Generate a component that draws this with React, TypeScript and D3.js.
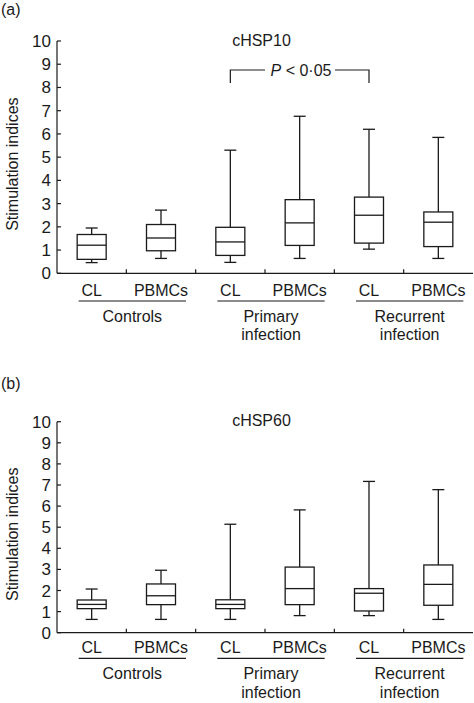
import React from "react";
import * as d3 from "d3";

const groups = ["CL", "PBMCs", "CL", "PBMCs", "CL", "PBMCs"];
const groupLabels = [["Controls"], ["Primary", "infection"], ["Recurrent", "infection"]];
const yTicks = [0, 1, 2, 3, 4, 5, 6, 7, 8, 9, 10];

// [min, q1, median, q3, max]
const hsp10 = [
  [0.46, 0.6, 1.21, 1.67, 1.95],
  [0.64, 0.97, 1.52, 2.1, 2.72],
  [0.47, 0.77, 1.35, 1.98, 5.3],
  [0.64, 1.2, 2.17, 3.17, 6.76],
  [1.04, 1.3, 2.5, 3.28, 6.2],
  [0.64, 1.15, 2.2, 2.64, 5.85],
];
const hsp60 = [
  [0.63, 1.14, 1.34, 1.55, 2.07],
  [0.63, 1.33, 1.75, 2.31, 2.96],
  [0.63, 1.14, 1.34, 1.56, 5.14],
  [0.81, 1.33, 2.09, 3.11, 5.82],
  [0.81, 1.03, 1.87, 2.09, 7.17],
  [0.63, 1.3, 2.29, 3.21, 6.78],
];

const FONT = "'Liberation Sans', Arial, Helvetica, sans-serif";
const STROKE = "#1a1a1a";

type PanelProps = {
  tag: string;
  title: string;
  data: number[][];
  yTop: number;
  yBottom: number;
  tagY: number;
  titleY: number;
  offs: number[];
  bracket?: boolean;
};

function Panel({ tag, title, data, yTop, yBottom, tagY, titleY, offs, bracket }: PanelProps) {
  const x = d3.scaleBand<number>().domain(d3.range(6)).range([57, 473]).padding(0);
  const y = d3.scaleLinear().domain([0, 10]).range([yBottom, yTop]);
  const bw = 29;
  const cw = 12;
  const cx = (i: number) => (x(i) as number) + x.bandwidth() / 2;
  return (
    <g>
      <text x={1} y={tagY} fontSize={16} fontFamily={FONT} fill={STROKE}>{tag}</text>
      <text x={261.5} y={titleY} fontSize={16} fontFamily={FONT} fill={STROKE} textAnchor="middle">{title}</text>
      <text
        transform={`translate(18,${(yTop + yBottom) / 2 + 7}) rotate(-90)`}
        fontSize={16}
        fontFamily={FONT}
        fill={STROKE}
        textAnchor="middle"
      >
        Stimulation indices
      </text>
      {/* y axis */}
      <line x1={57} x2={57} y1={yTop} y2={yBottom} stroke={STROKE} strokeWidth={1.2} />
      {yTicks.map((t) => (
        <g key={t}>
          <line x1={57} x2={61} y1={y(t)} y2={y(t)} stroke={STROKE} strokeWidth={1.2} />
          <text x={51} y={y(t) + 6} fontSize={17} fontFamily={FONT} fill={STROKE} textAnchor="end">{t}</text>
        </g>
      ))}
      {/* x axis */}
      <line x1={57} x2={473} y1={yBottom} y2={yBottom} stroke={STROKE} strokeWidth={1.2} />
      {d3.range(1, 6).map((i) => (
        <line key={i} x1={x(i) as number} x2={x(i) as number} y1={yBottom} y2={yBottom - 4} stroke={STROKE} strokeWidth={1.2} />
      ))}
      {/* boxes */}
      {data.map((d, i) => {
        const c = cx(i);
        const [mn, q1, md, q3, mx] = d;
        return (
          <g key={i} stroke={STROKE} strokeWidth={1.3} fill="none">
            <line x1={c} x2={c} y1={y(mx)} y2={y(q3)} />
            <line x1={c} x2={c} y1={y(q1)} y2={y(mn)} />
            <line x1={c - cw / 2} x2={c + cw / 2} y1={y(mx)} y2={y(mx)} />
            <line x1={c - cw / 2} x2={c + cw / 2} y1={y(mn)} y2={y(mn)} />
            <rect x={c - bw / 2} y={y(q3)} width={bw} height={y(q1) - y(q3)} fill="white" />
            <line x1={c - bw / 2} x2={c + bw / 2} y1={y(md)} y2={y(md)} />
          </g>
        );
      })}
      {/* category labels */}
      {groups.map((g, i) => (
        <text key={i} x={cx(i)} y={yBottom + offs[0] + 6} fontSize={16} fontFamily={FONT} fill={STROKE} textAnchor="middle">{g}</text>
      ))}
      {groupLabels.map((lines, gi) => {
        const c1 = cx(gi * 2);
        const c2 = cx(gi * 2 + 1);
        const mid = (c1 - 13 + c2 + 25) / 2;
        return (
          <g key={gi}>
            <line x1={c1 - 13} x2={c2 + 25} y1={yBottom + offs[1]} y2={yBottom + offs[1]} stroke={STROKE} strokeWidth={1.2} />
            {lines.map((l, li) => (
              <text key={li} x={mid} y={yBottom + (li === 0 ? offs[2] : offs[3]) + 6} fontSize={16} fontFamily={FONT} fill={STROKE} textAnchor="middle">{l}</text>
            ))}
          </g>
        );
      })}
      {bracket && (() => {
        const a = cx(2);
        const b = cx(4);
        const by = 70;
        return (
          <g stroke={STROKE} strokeWidth={1.2} fill="none">
            <polyline points={`${a},${by + 13} ${a},${by} ${265},${by}`} />
            <polyline points={`${335},${by} ${b},${by} ${b},${by + 13}`} />
            <text x={301} y={by + 6} fontSize={16} fontFamily={FONT} fill={STROKE} stroke="none" textAnchor="middle">
              <tspan fontStyle="italic">P</tspan> &lt; 0·05
            </text>
          </g>
        );
      })()}
    </g>
  );
}

export default function App() {
  return (
    <svg
      width={474}
      height={703}
      style={{ position: "absolute", left: 0, top: 0, display: "block", background: "white" }}
    >
      <rect width={474} height={703} fill="white" />
      <Panel tag="(a)" title="cHSP10" data={hsp10} yTop={41} yBottom={273.3} tagY={14.5} titleY={45.5} offs={[17, 27.7, 43, 60.3]} bracket />
      <Panel tag="(b)" title="cHSP60" data={hsp60} yTop={421.7} yBottom={632.7} tagY={388.5} titleY={425.5} offs={[14, 25.6, 40.6, 59]} />
    </svg>
  );
}
